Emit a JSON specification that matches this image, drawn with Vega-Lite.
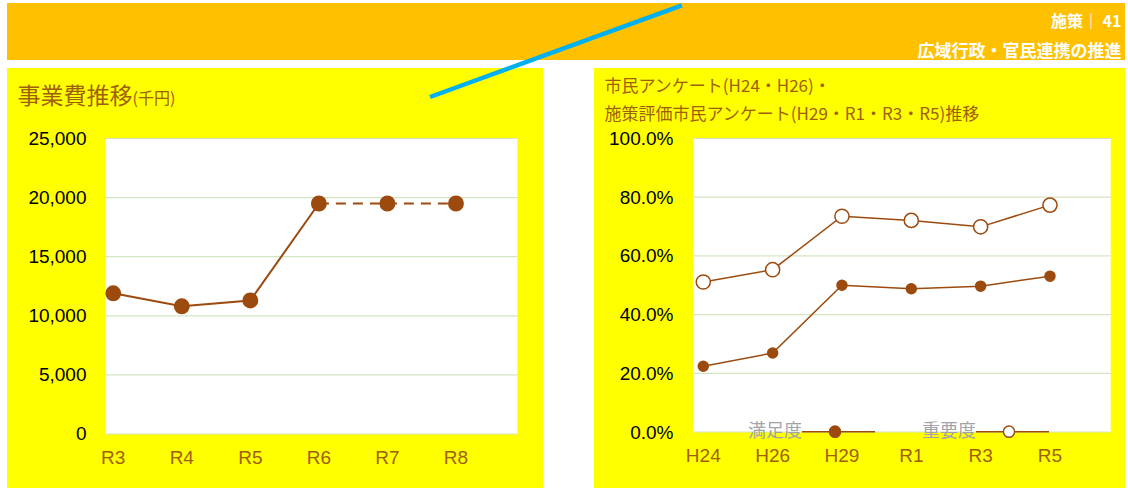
{
  "$schema": "https://vega.github.io/schema/vega-lite/v6.json",
  "background": "#FFFFFF",
  "padding": {"left": 7, "top": 3, "right": 3, "bottom": 0},
  "bounds": "flush",
  "spacing": 8,
  "config": {
    "view": {"stroke": null},
    "font": "Noto Sans CJK JP",
    "axis": {"labelFont": "Liberation Sans"}
  },
  "vconcat": [
    {
      "width": 1118,
      "height": 57,
      "view": {"fill": "#FFC000", "stroke": null},
      "data": {"values": [{}]},
      "mark": {"type": "point", "opacity": 0, "size": 1},
      "encoding": {
        "x": {
          "datum": 0.5, "type": "quantitative", "scale": {"domain": [0, 1]},
          "axis": {"orient": "top", "offset": 0, "labels": false, "ticks": false, "domain": false, "grid": false,
            "title": "施策｜ 41", "titleX": 1114, "titleY": 18, "titleAlign": "right", "titleBaseline": "middle", "titleAngle": 0,
            "titleColor": "#FFFFFF", "titleFont": "Noto Sans CJK JP", "titleFontSize": 16, "titleFontWeight": "bold"}
        },
        "y": {
          "datum": 0.5, "type": "quantitative", "scale": {"domain": [0, 1]},
          "axis": {"orient": "left", "offset": 0, "labels": false, "ticks": false, "domain": false, "grid": false,
            "title": "広域行政・官民連携の推進", "titleX": 1114, "titleY": 48.7, "titleAlign": "right", "titleBaseline": "middle", "titleAngle": 0,
            "titleColor": "#FFFFFF", "titleFont": "Noto Sans CJK JP", "titleFontSize": 17, "titleFontWeight": "bold"}
        }
      }
    },
    {
      "bounds": "flush",
      "spacing": 51,
      "hconcat": [
        {
          "width": 536,
          "height": 420,
          "view": {"fill": "#FFFF00", "stroke": null},
          "resolve": {"scale": {"x": "independent"}},
          "layer": [
            {
              "layer": [
                {
                  "data": {"values": [{}]},
                  "mark": {"type": "rect", "fill": "#FFFFFF"},
                  "encoding": {
                    "x": {"datum": 0, "type": "quantitative", "scale": {"domain": [-0.2377, 1.0623], "nice": false, "zero": false},
                      "axis": {"orient": "top", "offset": 0, "labels": false, "ticks": false, "domain": false, "grid": false,
                        "title": "事業費推移", "titleX": 10, "titleY": 28.7, "titleAlign": "left", "titleBaseline": "middle", "titleAngle": 0,
                        "titleFont": "Noto Sans CJK JP", "titleFontSize": 23, "titleFontWeight": "normal", "titleColor": "#A0600A"}},
                    "x2": {"datum": 1},
                    "y": {"datum": 0, "type": "quantitative", "scale": {"domain": [-4569, 30964], "nice": false, "zero": false},
                      "axis": {"orient": "left", "offset": -98, "values": [0, 5000, 10000, 15000, 20000, 25000], "labelExpr": "format(datum.value, ',d')",
                        "ticks": false, "domain": false, "grid": false, "labelPadding": 19, "labelFont": "Liberation Sans", "labelFontSize": 19, "labelColor": "#000000",
                        "title": "(千円)", "titleAngle": 0, "titleX": 27, "titleY": 30, "titleAlign": "left", "titleBaseline": "middle",
                        "titleFont": "Noto Sans CJK JP", "titleFontSize": 16, "titleFontWeight": "normal", "titleColor": "#A0600A"}},
                    "y2": {"datum": 25000}
                  }
                },
                {
                  "data": {"values": [{"g": 0}, {"g": 5000}, {"g": 10000}, {"g": 15000}, {"g": 20000}, {"g": 25000}]},
                  "mark": {"type": "rule", "stroke": "#D4E5C3", "strokeWidth": 1.2},
                  "encoding": {
                    "x": {"datum": 0, "type": "quantitative", "scale": {"domain": [-0.2377, 1.0623], "nice": false, "zero": false},
                      "axis": {"orient": "top", "offset": 0, "labels": false, "ticks": false, "domain": false, "grid": false,
                        "title": "事業費推移", "titleX": 10, "titleY": 28.7, "titleAlign": "left", "titleBaseline": "middle", "titleAngle": 0,
                        "titleFont": "Noto Sans CJK JP", "titleFontSize": 23, "titleFontWeight": "normal", "titleColor": "#A0600A"}},
                    "x2": {"datum": 1},
                    "y": {"field": "g", "type": "quantitative", "scale": {"domain": [-4569, 30964], "nice": false, "zero": false},
                      "axis": {"orient": "left", "offset": -98, "values": [0, 5000, 10000, 15000, 20000, 25000], "labelExpr": "format(datum.value, ',d')",
                        "ticks": false, "domain": false, "grid": false, "labelPadding": 19, "labelFont": "Liberation Sans", "labelFontSize": 19, "labelColor": "#000000",
                        "title": "(千円)", "titleAngle": 0, "titleX": 27, "titleY": 30, "titleAlign": "left", "titleBaseline": "middle",
                        "titleFont": "Noto Sans CJK JP", "titleFontSize": 16, "titleFontWeight": "normal", "titleColor": "#A0600A"}}
                  }
                }
              ]
            },
            {
              "data": {"values": [
                {"year": "R3", "cost": 11900},
                {"year": "R4", "cost": 10800},
                {"year": "R5", "cost": 11300},
                {"year": "R6", "cost": 19500},
                {"year": "R7", "cost": 19500},
                {"year": "R8", "cost": 19500}
              ]},
              "encoding": {
                "x": {"field": "year", "type": "ordinal",
                  "scale": {"type": "band", "domain": ["R3", "R4", "R5", "R6", "R7", "R8"], "paddingInner": 0, "paddingOuter": 0.91, "align": 0.577},
                  "axis": {"orient": "bottom", "offset": -54, "labelAngle": 0, "ticks": false, "domain": false, "grid": false, "title": null,
                    "labelPadding": 14, "labelFont": "Liberation Sans", "labelFontSize": 19, "labelColor": "#A0600A"}},
                "y": {"field": "cost", "type": "quantitative",
                  "scale": {"domain": [-4569, 30964], "nice": false, "zero": false},
                  "axis": {"orient": "left", "offset": -98, "values": [0, 5000, 10000, 15000, 20000, 25000], "labelExpr": "format(datum.value, ',d')",
                    "ticks": false, "domain": false, "grid": false, "labelPadding": 19, "labelFont": "Liberation Sans", "labelFontSize": 19, "labelColor": "#000000",
                    "title": "(千円)", "titleAngle": 0, "titleX": 27, "titleY": 30, "titleAlign": "left", "titleBaseline": "middle",
                    "titleFont": "Noto Sans CJK JP", "titleFontSize": 16, "titleFontWeight": "normal", "titleColor": "#A0600A"}}
              },
              "layer": [
                {
                  "transform": [{"filter": {"field": "year", "oneOf": ["R3", "R4", "R5", "R6"]}}],
                  "mark": {"type": "line", "stroke": "#9C4A0E", "strokeWidth": 2}
                },
                {
                  "transform": [{"filter": {"field": "year", "oneOf": ["R6", "R7", "R8"]}}],
                  "mark": {"type": "line", "stroke": "#9C4A0E", "strokeWidth": 2, "strokeDash": [10, 7]}
                },
                {
                  "mark": {"type": "circle", "size": 254, "opacity": 1, "color": "#9C4A0E"}
                }
              ]
            }
          ]
        },
        {
          "width": 531,
          "height": 420,
          "view": {"fill": "#FFFF00", "stroke": null},
          "resolve": {"scale": {"x": "independent"}},
          "layer": [
            {
              "layer": [
                {
                  "data": {"values": [{}]},
                  "mark": {"type": "rect", "fill": "#FFFFFF"},
                  "encoding": {
                    "x": {"datum": 0, "type": "quantitative", "scale": {"domain": [-0.237, 1.0342], "nice": false, "zero": false},
                      "axis": {"orient": "top", "offset": 0, "labels": false, "ticks": false, "domain": false, "grid": false,
                        "title": ["市民アンケート(H24・H26)・", "施策評価市民アンケート(H29・R1・R3・R5)推移"],
                        "titleX": 10, "titleY": 18.7, "titleAlign": "left", "titleBaseline": "middle", "titleAngle": 0, "titleLineHeight": 28.3,
                        "titleFont": "Noto Sans CJK JP", "titleFontSize": 17, "titleFontWeight": "normal", "titleColor": "#A0600A"}},
                    "x2": {"datum": 1},
                    "y": {"datum": 0, "type": "quantitative", "scale": {"domain": [-0.1908, 1.2402], "nice": false, "zero": false},
                      "axis": {"orient": "left", "offset": -99, "values": [0, 0.2, 0.4, 0.6, 0.8, 1], "format": ".1%",
                        "ticks": false, "domain": false, "grid": false, "labelPadding": 20, "labelFont": "Liberation Sans", "labelFontSize": 19, "labelColor": "#000000", "title": null}},
                    "y2": {"datum": 1}
                  }
                },
                {
                  "data": {"values": [{"g": 0}, {"g": 0.2}, {"g": 0.4}, {"g": 0.6}, {"g": 0.8}, {"g": 1}]},
                  "mark": {"type": "rule", "stroke": "#D4E5C3", "strokeWidth": 1.2},
                  "encoding": {
                    "x": {"datum": 0, "type": "quantitative", "scale": {"domain": [-0.237, 1.0342], "nice": false, "zero": false},
                      "axis": {"orient": "top", "offset": 0, "labels": false, "ticks": false, "domain": false, "grid": false,
                        "title": ["市民アンケート(H24・H26)・", "施策評価市民アンケート(H29・R1・R3・R5)推移"],
                        "titleX": 10, "titleY": 18.7, "titleAlign": "left", "titleBaseline": "middle", "titleAngle": 0, "titleLineHeight": 28.3,
                        "titleFont": "Noto Sans CJK JP", "titleFontSize": 17, "titleFontWeight": "normal", "titleColor": "#A0600A"}},
                    "x2": {"datum": 1},
                    "y": {"field": "g", "type": "quantitative", "scale": {"domain": [-0.1908, 1.2402], "nice": false, "zero": false},
                      "axis": {"orient": "left", "offset": -99, "values": [0, 0.2, 0.4, 0.6, 0.8, 1], "format": ".1%",
                        "ticks": false, "domain": false, "grid": false, "labelPadding": 20, "labelFont": "Liberation Sans", "labelFontSize": 19, "labelColor": "#000000", "title": null}}
                  }
                },
                {
                  "data": {"values": [{}]},
                  "mark": {"type": "rule", "stroke": "#00B0F0", "strokeWidth": 4.5, "clip": false},
                  "encoding": {
                    "x": {"datum": -0.6296, "type": "quantitative", "scale": {"domain": [-0.237, 1.0342], "nice": false, "zero": false},
                      "axis": {"orient": "top", "offset": 0, "labels": false, "ticks": false, "domain": false, "grid": false,
                        "title": ["市民アンケート(H24・H26)・", "施策評価市民アンケート(H29・R1・R3・R5)推移"],
                        "titleX": 10, "titleY": 18.7, "titleAlign": "left", "titleBaseline": "middle", "titleAngle": 0, "titleLineHeight": 28.3,
                        "titleFont": "Noto Sans CJK JP", "titleFontSize": 17, "titleFontWeight": "normal", "titleColor": "#A0600A"}},
                    "x2": {"datum": -0.0266},
                    "y": {"datum": 1.1414, "type": "quantitative", "scale": {"domain": [-0.1908, 1.2402], "nice": false, "zero": false},
                      "axis": {"orient": "left", "offset": -99, "values": [0, 0.2, 0.4, 0.6, 0.8, 1], "format": ".1%",
                        "ticks": false, "domain": false, "grid": false, "labelPadding": 20, "labelFont": "Liberation Sans", "labelFontSize": 19, "labelColor": "#000000", "title": null}},
                    "y2": {"datum": 1.4532}
                  }
                }
              ]
            },
            {
              "data": {"values": [
                {"year": "H24", "series": "満足度", "rate": 0.224},
                {"year": "H26", "series": "満足度", "rate": 0.269},
                {"year": "H29", "series": "満足度", "rate": 0.500},
                {"year": "R1", "series": "満足度", "rate": 0.488},
                {"year": "R3", "series": "満足度", "rate": 0.497},
                {"year": "R5", "series": "満足度", "rate": 0.531},
                {"year": "H24", "series": "重要度", "rate": 0.511},
                {"year": "H26", "series": "重要度", "rate": 0.553},
                {"year": "H29", "series": "重要度", "rate": 0.735},
                {"year": "R1", "series": "重要度", "rate": 0.721},
                {"year": "R3", "series": "重要度", "rate": 0.699},
                {"year": "R5", "series": "重要度", "rate": 0.773}
              ]},
              "encoding": {
                "x": {"field": "year", "type": "ordinal",
                  "scale": {"type": "band", "domain": ["H24", "H26", "H29", "R1", "R3", "R5"], "paddingInner": 0, "paddingOuter": 0.829, "align": 0.649},
                  "axis": {"orient": "bottom", "offset": -56, "labelAngle": 0, "ticks": false, "domain": false, "grid": false, "title": null,
                    "labelPadding": 14, "labelFont": "Liberation Sans", "labelFontSize": 19, "labelColor": "#A0600A"}},
                "y": {"field": "rate", "type": "quantitative",
                  "scale": {"domain": [-0.1908, 1.2402], "nice": false, "zero": false},
                  "axis": {"orient": "left", "offset": -99, "values": [0, 0.2, 0.4, 0.6, 0.8, 1], "format": ".1%",
                    "ticks": false, "domain": false, "grid": false, "labelPadding": 20, "labelFont": "Liberation Sans", "labelFontSize": 19, "labelColor": "#000000", "title": null}},
                "fill": {"field": "series", "type": "nominal",
                  "scale": {"domain": ["満足度", "重要度"], "range": ["#9C4A0E", "#FFFFFF"]},
                  "legend": {
                    "orient": "none", "legendX": 723, "legendY": 419.7, "direction": "horizontal", "title": null, "padding": 0,
                    "labelFont": "Noto Sans CJK JP", "labelFontSize": 18, "labelColor": "#A0A4AA", "labelOffset": 0,
                    "symbolSize": 256, "symbolStrokeWidth": 1.5, "symbolStrokeColor": "#9C4A0E", "columnPadding": 26,
                    "symbolType": "M7.875,0H11.3M12.7,0H17M11.3,0A0.7,0.7 0 1,0 12.7,0A0.7,0.7 0 1,0 11.3,0Z"
                  }}
              },
              "layer": [
                {
                  "mark": {"type": "line", "stroke": "#9C4A0E", "strokeWidth": 1.5},
                  "encoding": {"detail": {"field": "series", "type": "nominal"}, "fill": null}
                },
                {
                  "transform": [{"filter": {"field": "series", "equal": "満足度"}}],
                  "mark": {"type": "point", "shape": "circle", "filled": true, "stroke": "#9C4A0E", "strokeWidth": 1.5, "opacity": 1, "size": 100}
                },
                {
                  "transform": [{"filter": {"field": "series", "equal": "重要度"}}],
                  "mark": {"type": "point", "shape": "circle", "filled": true, "stroke": "#9C4A0E", "strokeWidth": 1.5, "opacity": 1, "size": 200}
                }
              ]
            }
          ]
        }
      ]
    }
  ]
}
